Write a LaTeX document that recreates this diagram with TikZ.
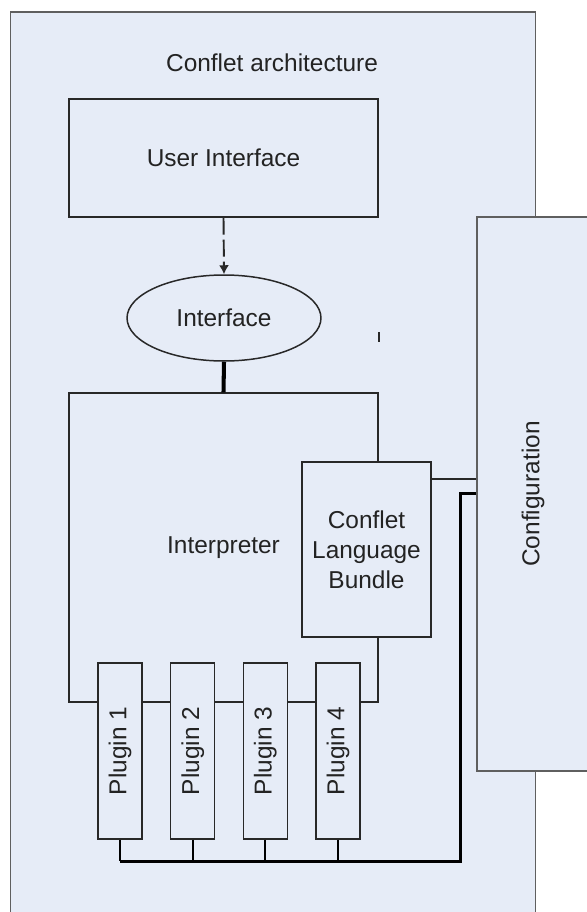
\documentclass[tikz,border=0pt]{standalone}
\usepackage{fontspec}
\setmainfont{Liberation Sans}
\usepackage{xcolor}
\usepackage{tikz}
\usetikzlibrary{shapes.geometric,arrows.meta,positioning,calc}

\definecolor{panel}{RGB}{230,236,247}
\definecolor{edge}{RGB}{40,40,40}
\definecolor{frameedge}{RGB}{95,95,95}
\definecolor{txt}{RGB}{35,35,35}

\begin{document}
\begin{tikzpicture}[
x=0.02cm, y=-0.02cm,
font=\fontsize{13.9}{17}\selectfont,
box/.style={draw=edge, line width=0.85pt, fill=panel, text=txt, align=center, inner sep=0pt},
plugin/.style={box, minimum width=0.88cm, minimum height=3.52cm},
link/.style={draw=edge, line width=0.95pt},
dasharrow/.style={link, line width=1.1pt, -{Latex[length=1.8mm, width=2mm]}, dash pattern=on 3.4mm off 1mm},
heavy/.style={line width=2.3pt, black},
bus/.style={line width=1.7pt, black},
stub/.style={line width=1.1pt, black}
]
\useasboundingbox (0,0) rectangle (587,912);

% Outer frame and title
\draw[draw=frameedge, line width=1pt, fill=panel] (10.5,12) rectangle (535.5,930);
\node[text=txt] (title) at (272,63) {Conflet architecture};

% Configuration side box
\node[box, draw=frameedge, minimum width=2.24cm, minimum height=11.08cm] (cfg) at (533,494) {};
\node[text=txt, rotate=90] at (cfg.center) {Configuration};

% User interface and interface
\node[box, minimum width=6.18cm, minimum height=2.36cm] (ui) at (223.5,158) {User Interface};
\node[box, ellipse, minimum width=3.88cm, minimum height=1.72cm] (iface) at (224,318) {Interface};

% Interpreter with language bundle
\node[box, minimum width=6.18cm, minimum height=6.18cm] (interp) at (223.5,547.5) {Interpreter};
\node[box, minimum width=2.58cm, minimum height=3.5cm] (clb) at (366.5,549.5) {Conflet\\Language\\Bundle};
\draw[link] ($(interp.north east)+(0,-60)$) -- ++(0,10);

% Plugins
\foreach \i in {1,...,4}
  \node[plugin] (p\i) at ({120+72.7*(\i-1)},751) {\rotatebox{90}{Plugin \i}};

\draw[dasharrow] (ui.south) -- (iface.north);
\draw[heavy] (iface.south) -- (interp.north);

% Links to configuration
\coordinate (c1) at ($(clb.north east)+(0,18)$);
\draw[link] (c1) -- (c1 -| cfg.west);

\coordinate (c2) at ($(cfg.north west)+(0,277)$);
\coordinate (busend) at (460,861);
\coordinate (bus) at (p1.south |- busend);
\draw[bus] (c2) -- (c2 -| busend) -- (busend) -- (bus);
\foreach \i in {1,...,4}
  \draw[stub] (p\i.south) -- (p\i.south |- bus);

\end{tikzpicture}
\end{document}
